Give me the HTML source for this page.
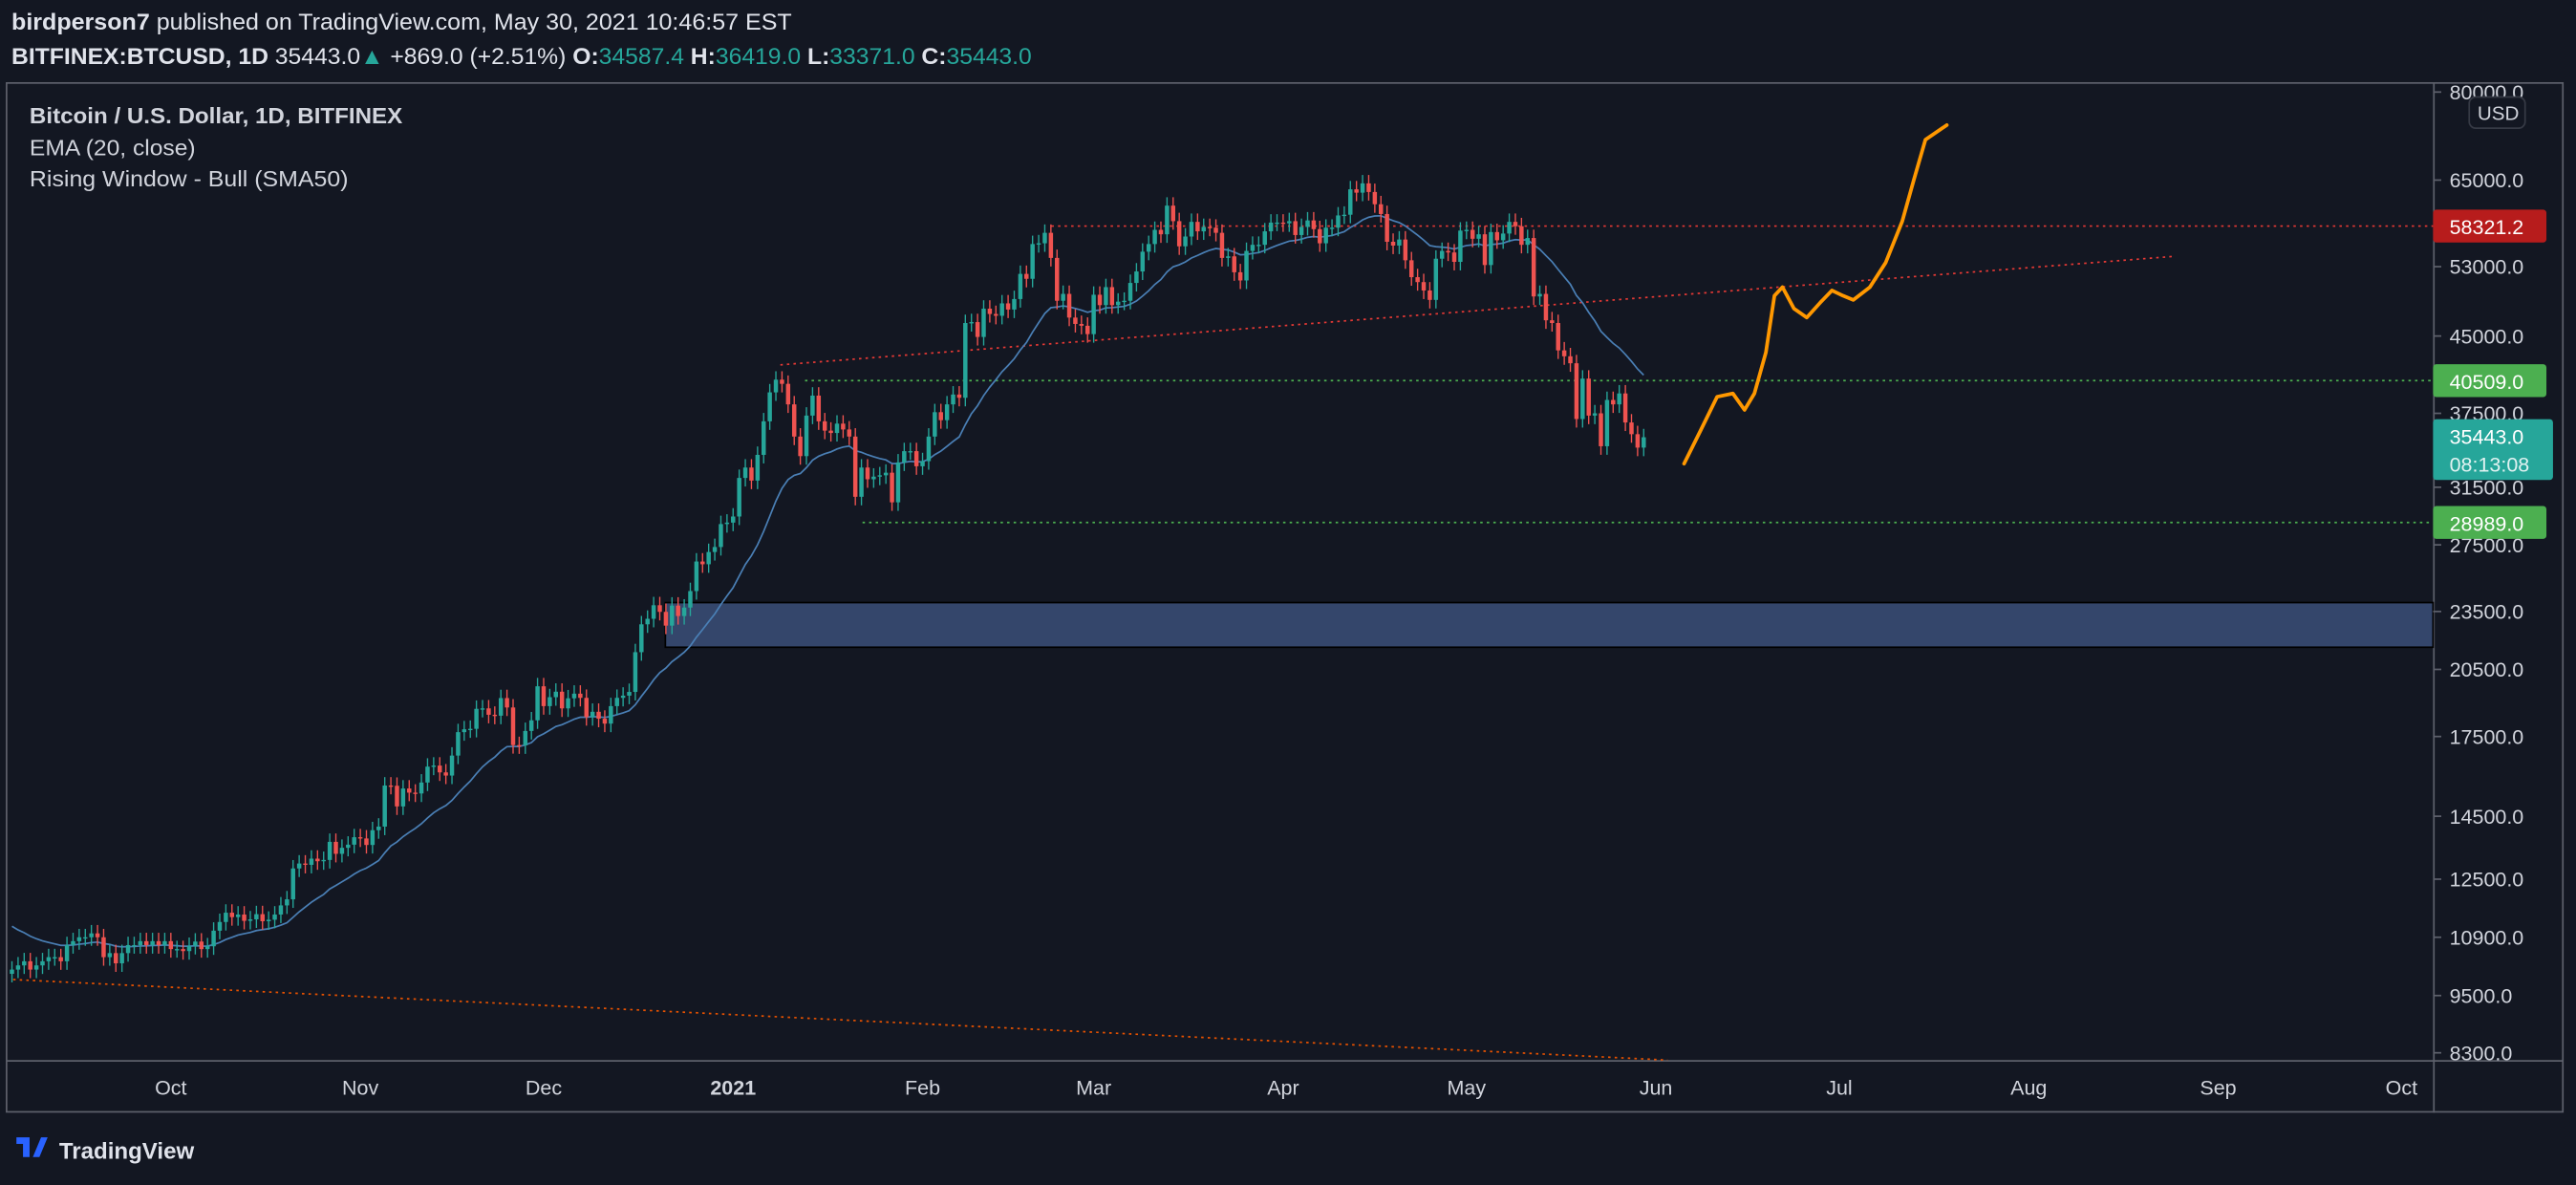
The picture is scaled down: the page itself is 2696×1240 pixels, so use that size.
<!DOCTYPE html>
<html><head><meta charset="utf-8"><style>
html,body{margin:0;padding:0;background:#131722;}
svg{display:block;}
text{font-family:"Liberation Sans",sans-serif;}
</style></head><body>
<svg id="chart" width="2696" height="1240" viewBox="0 0 1568 721" preserveAspectRatio="none" xmlns="http://www.w3.org/2000/svg">
<rect x="0" y="0" width="1568" height="721" fill="#131722"/>
<g>
<text x="7" y="18" font-size="14" fill="#e0e3eb" textLength="475" lengthAdjust="spacingAndGlyphs"><tspan font-weight="bold">birdperson7</tspan> published on TradingView.com, May 30, 2021 10:46:57 EST</text>
<text x="7" y="39" font-size="14" fill="#e0e3eb" textLength="621" lengthAdjust="spacingAndGlyphs"><tspan font-weight="bold">BITFINEX:BTCUSD, 1D</tspan>  35443.0<tspan fill="#26a69a">▲</tspan> +869.0 (+2.51%) <tspan font-weight="bold">O:</tspan><tspan fill="#26a69a">34587.4</tspan> <tspan font-weight="bold">H:</tspan><tspan fill="#26a69a">36419.0</tspan> <tspan font-weight="bold">L:</tspan><tspan fill="#26a69a">33371.0</tspan> <tspan font-weight="bold">C:</tspan><tspan fill="#26a69a">35443.0</tspan></text>
</g>
<rect x="4" y="50.5" width="1556" height="626" fill="none" stroke="#5d606b" stroke-width="1"/>
<line x1="4" y1="645.5" x2="1560" y2="645.5" stroke="#5d606b"/>
<line x1="1481.5" y1="50" x2="1481.5" y2="677" stroke="#5d606b"/>
<g font-size="13.5" fill="#d1d4dc">
<text x="18" y="75" font-weight="bold" textLength="227" lengthAdjust="spacingAndGlyphs">Bitcoin / U.S. Dollar, 1D, BITFINEX</text>
<text x="18" y="94.5" textLength="101" lengthAdjust="spacingAndGlyphs">EMA (20, close)</text>
<text x="18" y="113.5" textLength="194" lengthAdjust="spacingAndGlyphs">Rising Window - Bull (SMA50)</text>
</g>
<g id="drawings"></g>
<g id="candles"></g>
<g id="yaxis"></g>
<g id="xaxis"></g>
<g>
<path d="M10 692 h8 v12 h-4 v-8 h-4z M20 704 l5 -12 h4 l-5 12z" fill="#2962ff"/>
<text x="36" y="705" font-size="14" font-weight="bold" fill="#e0e3eb">TradingView</text>
</g>
</svg>
<script>
const closes = [
10100,10200,10300,10100,10200,10300,10400,10400,10300,10700,10800,10900,10900,11000,10900,10400,10500,10250,10500,10700,10700,10800,10700,10800,10700,10800,
10600,10600,10550,10680,10790,10600,10670,11070,11300,11550,11430,11500,11330,11370,11510,11320,11360,11500,11750,11920,12820,12970,12930,13120,13040,13080,13650,13270,13460,13560,13800,
13760,13550,14030,14150,15590,15580,14840,15480,15330,15300,15700,16300,16340,16080,15960,16730,17680,17800,17820,18680,18700,18420,18380,19160,18740,17150,17140,17730,18180,19700,
18800,19200,19450,18700,19150,19360,19170,18320,18550,18250,18040,18800,19170,19270,19440,21350,22800,23100,23850,23480,22730,23830,23250,23720,24660,26440,26270,27040,27360,28880,28980,
29400,32200,33000,32000,34000,36800,39400,40600,40200,38300,35500,33900,37300,39100,36800,36000,35800,36600,36100,35500,30800,33000,32100,32300,32400,32600,30400,33400,34300,34300,33100,
33500,35500,37600,36900,38300,39200,38900,46400,46500,44900,48000,47400,47200,48600,47900,49100,52100,51500,55900,56000,57400,54100,48900,49700,47000,46300,46100,45200,
49600,48400,50500,48400,48800,48900,51000,52400,54900,55900,57800,57200,61200,59000,55600,56900,58900,57600,58200,58100,57400,54100,54300,52300,51300,55000,55800,55800,57600,58800,58800,
58700,59000,57100,58200,59100,57900,56000,58100,58100,59800,59900,63600,63100,64500,63200,61400,60000,56200,55700,56500,53800,51700,51100,50100,49000,54000,55000,54800,53600,57700,
57800,56600,57200,53200,57500,56400,57300,58900,58300,55800,56700,49400,49700,46700,46400,43500,42900,42200,37000,40700,37300,37500,34700,38700,38300,39300,36700,35700,34587,35443];
const yTicks = [80000,65000,53000,45000,37500,31500,27500,23500,20500,17500,14500,12500,10900,9500,8300];
const monthLabels = ["Oct","Nov","Dec","2021","Feb","Mar","Apr","May","Jun","Jul","Aug","Sep","Oct"];
const monthDays = [26,57,87,118,149,177,208,238,269,299,330,361,391]; // day index from Sep 5 2020
const levels = [58321.2,40509.0,28989.0];
const lastPrice = 35443.0;
const zoneLow = 21600, zoneHigh = 24000;
const projDays = [273.6,276.3,279,281.6,283.5,285.1,287,288.4,289.7,291.6,293.7,295.9,297.8,299.6,301.3,304,306.6,309.3,311.2,313.1,316.6];
const projPrices = [33300,36000,39000,39300,37800,39300,43300,49500,50500,48000,47000,48700,50100,49500,49000,50500,53500,59000,65000,71500,74000];

const NS="http://www.w3.org/2000/svg";
const LN_TOP=Math.log(80000), PX_PER_LN=258;
function y(p){return 56+(LN_TOP-Math.log(p))*PX_PER_LN;}
function x(d){return 104+(d-26)*3.72;}
function mk(tag,attrs,parent){const e=document.createElementNS(NS,tag);for(const k in attrs)e.setAttribute(k,attrs[k]);parent.appendChild(e);return e;}

const dr=document.getElementById('drawings');
let z=mk('rect',{x:405,y:y(zoneHigh),width:1076,height:y(zoneLow)-y(zoneHigh),fill:'#34466b',stroke:'#000',"stroke-width":1},dr);


let l1=mk('line',{x1:8,y1:596,x2:1015,y2:645,stroke:'#e65100',"stroke-dasharray":"1.5 2.5","stroke-width":1},dr);


let l2=mk('line',{x1:475,y1:222,x2:1323,y2:156,stroke:'#e53935',"stroke-dasharray":"1.5 2.5","stroke-width":1},dr);


const lvlStart=[640,490,525], lvlColor=['#e53935','#4caf50','#4caf50'], lvlBg=['#b71c1c','#4caf50','#4caf50'];
levels.forEach((v,i)=>{
  let h=mk('line',{x1:lvlStart[i],y1:y(v),x2:1481,y2:y(v),stroke:lvlColor[i],"stroke-dasharray":"1.5 2.5"},dr);
  
  
});
let ema=11300, pts=[];
closes.forEach((c,i)=>{ema=ema+(c-ema)*2/21;pts.push(x(i).toFixed(1)+','+y(ema).toFixed(1));});
let emaL=mk('polyline',{points:pts.join(' '),fill:'none',stroke:'#4a7fb5',"stroke-width":1},dr);


let pp=mk('polyline',{points:projDays.map((d,i)=>x(d).toFixed(1)+','+y(projPrices[i]).toFixed(1)).join(' '),fill:'none',stroke:'#ff9800',"stroke-width":2.2,"stroke-linejoin":"round","stroke-linecap":"round"},dr);


const cg=document.getElementById('candles');
closes.forEach((c,i)=>{
  const o=i===0?c*0.99:closes[i-1];
  const up=c>=o, col=up?'#26a69a':'#ef5350';
  const hi=Math.max(o,c)*1.02, lo=Math.min(o,c)*0.98;
  const g=mk('g',{},cg);
  
  
  mk('line',{x1:x(i),y1:y(hi),x2:x(i),y2:y(lo),stroke:col,"stroke-width":0.8},g);
  const t=y(Math.max(o,c)), b=y(Math.min(o,c));
  mk('rect',{x:x(i)-1.3,y:t,width:2.6,height:Math.max(0.8,b-t),fill:col},g);
});
const ya=document.getElementById('yaxis');
yTicks.forEach(v=>{
  mk('line',{x1:1481,y1:y(v),x2:1486,y2:y(v),stroke:'#5d606b'},ya);
  const t=mk('text',{x:1491,y:y(v)+4.5,"font-size":12.5,fill:'#d1d4dc'},ya);
  t.textContent=v.toFixed(1);
  
  
});
const ub=mk('rect',{x:1503,y:59,width:34,height:19,rx:4,fill:'#131722',stroke:'#363a45'},ya);


mk('text',{x:1508,y:73,"font-size":12,fill:'#d1d4dc'},ya).textContent='USD';
levels.forEach((v,i)=>{
  const r=mk('rect',{x:1481,y:y(v)-10,width:69,height:20,rx:2,fill:lvlBg[i]},ya);
  
  
  mk('text',{x:1491,y:y(v)+5,"font-size":12.5,fill:'#fff'},ya).textContent=v.toFixed(1);
});
const lp=mk('rect',{x:1481,y:y(lastPrice)-11,width:73,height:37,rx:2,fill:'#26a69a'},ya);


mk('text',{x:1491,y:y(lastPrice)+4,"font-size":12.5,fill:'#fff'},ya).textContent=lastPrice.toFixed(1);
mk('text',{x:1491,y:y(lastPrice)+21,"font-size":12.5,fill:'#e0f2f1'},ya).textContent='08:13:08';
const xa=document.getElementById('xaxis');
monthLabels.forEach((m,i)=>{
  const t=mk('text',{x:x(monthDays[i]),y:666,"font-size":12.5,fill:'#d1d4dc',"text-anchor":"middle","font-weight":m==='2021'?'bold':'normal'},xa);
  t.textContent=m;
  
  
});
</script>
</body></html>
